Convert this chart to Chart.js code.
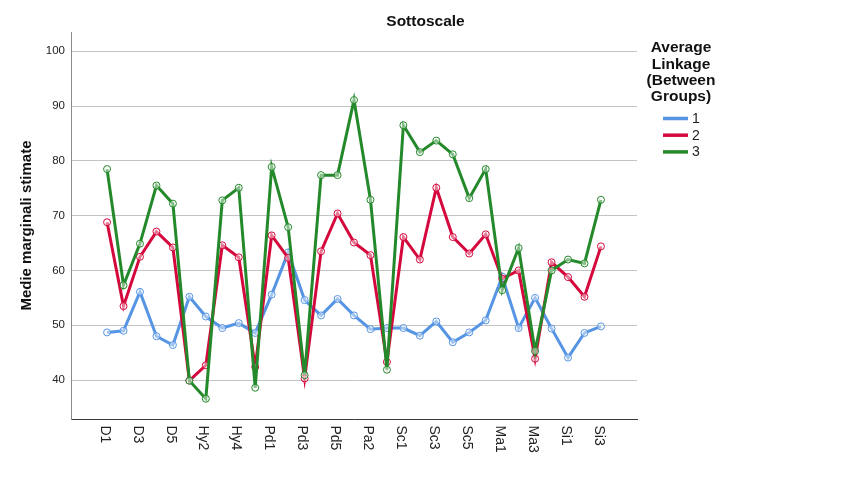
<!DOCTYPE html>
<html><head><meta charset="utf-8">
<script src="https://cdn.jsdelivr.net/npm/chart.js@4.4.1/dist/chart.umd.min.js"></script>
<style>html,body{margin:0;padding:0;background:#fff} #wrap{width:851px;height:501px}</style>
</head><body>
<div id="wrap"><canvas id="c" width="851" height="501"></canvas></div>
<script>
const categories = ['D1','D2','D3','D4','D5','Hy1','Hy2','Hy3','Hy4','Hy5','Pd1','Pd2','Pd3','Pd4','Pd5','Pa1','Pa2','Pa3','Sc1','Sc2','Sc3','Sc4','Sc5','Sc6','Ma1','Ma2','Ma3','Ma4','Si1','Si2','Si3'];
const clusterNames = ['1','2','3'];
const cluster1 = [48.7,49.0,56.1,48.0,46.4,55.2,51.6,49.5,50.4,48.6,55.6,63.3,54.6,51.8,54.8,51.8,49.3,49.5,49.5,48.1,50.7,46.9,48.7,50.9,58.9,49.5,55.0,49.4,44.1,48.6,49.8];
const cluster2 = [68.8,53.5,62.5,67.1,64.2,39.9,42.7,64.6,62.4,42.4,66.4,62.3,40.3,63.5,70.4,65.1,62.8,43.3,66.1,62.0,75.1,66.1,63.1,66.6,58.5,60.0,43.9,61.5,58.8,55.2,64.4];
const cluster3 = [78.5,57.3,64.9,75.5,72.2,39.9,36.6,72.8,75.1,38.6,78.9,67.9,40.9,77.4,77.4,91.1,72.9,41.9,86.5,81.6,83.7,81.2,73.2,78.5,56.4,64.1,45.3,60.0,62.0,61.3,72.9];
const yTicks = [40,50,60,70,80,90,100];
const legendTitle = ['Average','Linkage','(Between','Groups)'];

const FONT = '"Liberation Sans", Arial, sans-serif';
const colors = ['#5694e4','#d4083c','#24892a'];
const pts = arr => arr.map((v,i)=>({x:i,y:v}));

// x labels turned clockwise + legend on the right
const sideStuff = {
  id:'sideStuff',
  afterDraw(chart){
    const ctx=chart.ctx, xs=chart.scales.x, ca=chart.chartArea;
    ctx.save();
    ctx.fillStyle='#222'; ctx.font='14px '+FONT; ctx.textAlign='left'; ctx.textBaseline='middle';
    categories.forEach((c,i)=>{
      if(i%2) return;
      ctx.save(); ctx.translate(xs.getPixelForValue(i)-2.5, xs.top+6.5); ctx.rotate(Math.PI/2);
      ctx.fillText(c,0,0); ctx.restore();
    });
    const lx = ca.right+44;
    ctx.fillStyle='#111'; ctx.font='bold 15.5px '+FONT; ctx.textAlign='center';
    legendTitle.forEach((t,i)=>ctx.fillText(t, lx, 48.2+i*16.3));
    ctx.font='14px '+FONT; ctx.textAlign='left';
    chart.data.datasets.forEach((d,i)=>{
      const y=118.5+i*16.7;
      ctx.strokeStyle=d.borderColor; ctx.lineWidth=3.5;
      ctx.beginPath(); ctx.moveTo(lx-18,y); ctx.lineTo(lx+7,y); ctx.stroke();
      ctx.fillStyle='#222'; ctx.fillText(d.label, lx+11, y+0.5);
    });
    ctx.restore();
  }
};

new Chart(document.getElementById('c'), {
  type:'line',
  data:{datasets:[cluster1,cluster2,cluster3].map((arr,k)=>({
    label:clusterNames[k], data:pts(arr), borderColor:colors[k], backgroundColor:colors[k],
    borderWidth:3, tension:0, pointRadius:3.5, pointBorderWidth:1,
    pointBackgroundColor:'rgba(255,255,255,0.45)', pointBorderColor:colors[k], order:2-k
  }))},
  options:{
    responsive:false, animation:false, events:[],
    layout:{padding:0},
    plugins:{
      legend:{display:false}, tooltip:{enabled:false},
      title:{display:true, text:'Sottoscale', color:'#111', font:{family:FONT,size:15.5,weight:'bold'}, padding:{top:12.5,bottom:1}}
    },
    scales:{
      x:{type:'linear', min:-2.19, max:32.19, grid:{display:false}, border:{color:'#3a3a3a',width:1},
         ticks:{display:false},
         afterBuildTicks:s=>{s.ticks=categories.map((c,i)=>({value:i})).filter(t=>t.value%2===0);},
         afterFit:s=>{s.height=82;}},
      y:{type:'linear', min:32.9, max:103.5,
         afterBuildTicks:s=>{s.ticks=yTicks.map(v=>({value:v}));},
         grid:{color:'#c4c4c4', drawTicks:false}, border:{color:'#8a8a8a'},
         ticks:{color:'#222', padding:6, font:{family:FONT,size:11.5}},
         title:{display:true, text:'Medie marginali stimate', color:'#111', font:{family:FONT,size:15,weight:'bold'}, padding:{top:18,bottom:0}},
         afterFit:s=>{s.width=71;}},
      spacer:{type:'linear', position:'right', grid:{display:false}, border:{display:false}, ticks:{display:false},
         afterFit:s=>{s.width=214;}}
    }
  },
  plugins:[sideStuff]
});
</script>
</body></html>
